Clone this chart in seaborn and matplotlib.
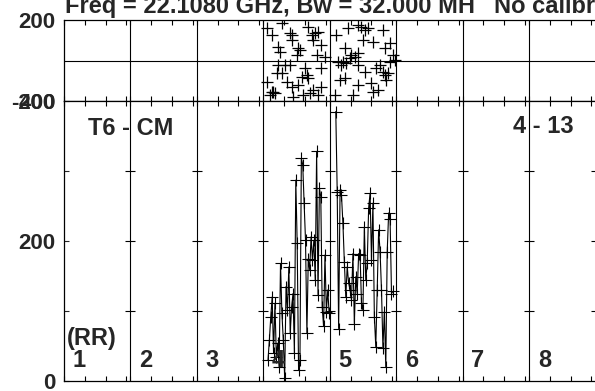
import numpy as np
import pandas as pd
import matplotlib
matplotlib.use("Agg")
import matplotlib.pyplot as plt
import seaborn as sns

title_left = "Freq = 22.1080 GHz, Bw = 32.000 MH"
title_right = "No calibr"
source_label = "T6 - CM"
scan_label = "4 - 13"
pol_label = "(RR)"
box_labels = ["1", "2", "3", "4", "5", "6", "7", "8"]

# lower panel: amplitude samples in boxes 4 and 5
amp_box4 = [30, 59, 92, 120, 40, 111, 35, 54, 20, 168, 97, 59, 4, 135, 101, 163,
            68, 106, 125, 40, 287, 197, 16, 30, 318, 309, 254, 201, 68, 175, 159,
            206, 173, 201, 144, 328, 123, 275, 263, 106, 78, 180, 99, 130, 97]
amp_box5 = [385, 270, 75, 273, 265, 225, 170, 120, 163, 140, 130, 116, 182, 82,
            149, 125, 182, 180, 111, 101, 220, 144, 168, 247, 268, 173, 254, 92,
            49, 130, 216, 185, 130, 47, 99, 20, 185, 240, 232, 125, 128]

# upper panel: scattered points (position inside the box, value)
ph_box4_x = [0.05, 0.125, 0.275, 0.40, 0.425, 0.425, 0.225, 0.25, 0.525, 0.55, 0.50,
             0.675, 0.725, 0.75, 0.775, 0.825, 0.875, 0.925, 0.80, 0.325, 0.275, 0.20,
             0.40, 0.625, 0.65, 0.675, 0.575, 0.875, 0.875, 0.35, 0.425, 0.525, 0.75,
             0.15, 0.10, 0.125, 0.175, 0.45, 0.60, 0.70, 0.825, 0.05, 0.225]
ph_box4_y = [159, 126, 184, 134, 126, 101, 68, 44, 60, 52, 27, 167, 126, 101, 134,
             142, 77, 19, 27, -22, -63, -63, -22, -39, -72, -88, -80, -39, -129,
             -105, -129, -121, -146, -154, -170, -154, -162, -179, -170, -162, -170,
             -105, -22]
ph_box5_x = [0.10, 0.275, 0.425, 0.475, 0.525, 0.575, 0.80, 0.50, 0.65, 0.225, 0.30,
             0.375, 0.425, 0.325, 0.125, 0.20, 0.25, 0.175, 0.15, 0.225, 0.075, 0.35,
             0.425, 0.625, 0.70, 0.75, 0.80, 0.825, 0.85, 0.875, 0.90, 0.95, 0.975,
             0.825, 0.90, 0.525, 0.65, 0.725, 0.425]
ph_box5_y = [126, 159, 175, 167, 151, 159, 151, 101, 93, 60, 11, 19, 35, 27, -6, -6,
             -14, -22, -96, -88, -170, -170, -121, -113, -39, -22, -55, -72, -96, -63,
             -6, 27, 2, 60, 85, -55, -154, -146, -22]

W, H = 595, 391
sns.set_style("ticks")
plt.rcParams["font.family"] = ["Liberation Sans", "DejaVu Sans"]
plt.rcParams["font.weight"] = "bold"
plt.rcParams["font.size"] = 17

fig = plt.figure(figsize=(W / 100, H / 100), dpi=100)


def px_axes(x0, y0, x1, y1):
    return fig.add_axes([x0 / W, 1 - y1 / H, (x1 - x0) / W, (y1 - y0) / H])


ax_top = px_axes(64, 20, 595.6, 101)
ax_bot = px_axes(64, 101, 595.6, 381)

n_box = 8
xticks = [k + j * 0.3125 for k in range(n_box) for j in range(4)] + [n_box]

# lower panel data
amp = pd.concat([
    pd.DataFrame({"x": 3 + np.linspace(0.07, 0.99, len(amp_box4)), "amp": amp_box4, "box": 4}),
    pd.DataFrame({"x": 4 + np.linspace(0.09, 0.95, len(amp_box5)), "amp": amp_box5, "box": 5}),
])
sns.lineplot(data=amp, x="x", y="amp", units="box", estimator=None, sort=False,
             color="black", lw=0.8, marker="+", markersize=8, markeredgewidth=0.8,
             markeredgecolor="black", ax=ax_bot)

# upper panel data
ph = pd.concat([
    pd.DataFrame({"x": 3 + np.array(ph_box4_x), "val": ph_box4_y}),
    pd.DataFrame({"x": 4 + np.array(ph_box5_x), "val": ph_box5_y}),
])
sns.scatterplot(data=ph, x="x", y="val", marker="+", s=80, color="black",
                linewidth=0.9, ax=ax_top)

for ax in (ax_top, ax_bot):
    ax.set_xlim(0, n_box)
    ax.set_xlabel("")
    ax.set_ylabel("")
    for k in range(1, n_box):
        ax.axvline(k, color="black", lw=0.8)
    for s in ax.spines.values():
        s.set_linewidth(0.9)
        s.set_color("black")
    ax.set_xticks(xticks)
    ax.tick_params(axis="x", direction="in", top=True, bottom=True,
                   labelbottom=False, length=3.5, width=0.8, color="black")

ax_top.set_ylim(-200, 200)
ax_top.axhline(0, color="black", lw=0.8)
ax_top.set_yticks([-200, 200])
ax_top.set_yticklabels(["-200", "200"])
ax_top.tick_params(axis="y", length=0, pad=6, labelsize=16)

ax_bot.set_ylim(0, 400)
ax_bot.set_yticks([0, 100, 200, 300, 400])
ax_bot.set_yticklabels(["0", "", "200", "", "400"])
ax_bot.tick_params(axis="y", direction="in", length=3.5, width=0.8, pad=6, labelsize=16)
for k in range(1, n_box + 1):
    ax_bot.hlines([100, 200, 300], k - 0.075, k + 0.075, color="black", lw=0.8)

for k, lab in enumerate(box_labels):
    ax_bot.text(k + 0.13, 20, lab, ha="left", va="baseline", fontsize=17, fontweight="bold")
ax_bot.text(0.045, 52, pol_label, ha="left", va="baseline", fontsize=17, fontweight="bold")
ax_bot.text(0.36, 351, source_label, ha="left", va="baseline", fontsize=17, fontweight="bold")
ax_bot.text(6.76, 354, scan_label, ha="left", va="baseline", fontsize=17, fontweight="bold")

fig.text(65 / W, 1 - 13 / H, title_left, ha="left", va="baseline", fontsize=17, fontweight="bold")
fig.text(494 / W, 1 - 13 / H, title_right, ha="left", va="baseline", fontsize=17, fontweight="bold")

fig.savefig("out.png", dpi=100)
